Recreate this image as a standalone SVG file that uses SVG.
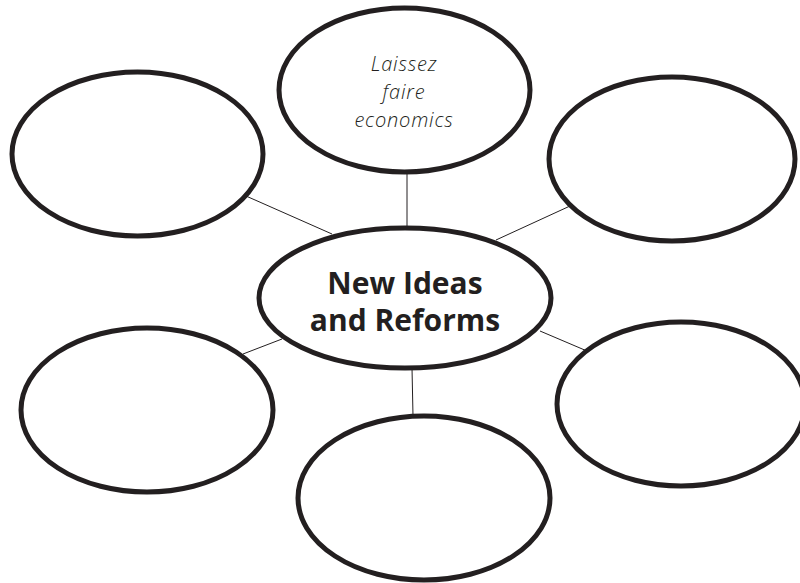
<svg xmlns="http://www.w3.org/2000/svg" width="800" height="583" viewBox="0 0 800 583">
<style>
.node ellipse{fill:#fff;stroke:#231f20;stroke-width:5}
.conn line{stroke:#231f20;stroke-width:1}
.hand{font-family:"Open Sans","DejaVu Sans",sans-serif;font-weight:300;font-style:italic;font-size:20px;letter-spacing:0.8px;fill:#231f20;text-anchor:middle}
.main{font-family:"Open Sans","Liberation Sans",sans-serif;font-weight:700;font-size:30px;fill:#231f20;text-anchor:middle}
</style>
<rect width="800" height="583" fill="#fff"/>
<g id="connectors" class="conn">
<line x1="407" y1="172" x2="407" y2="228"/>
<line x1="246" y1="196" x2="332" y2="234"/>
<line x1="570" y1="206" x2="496" y2="240"/>
<line x1="243" y1="354" x2="282" y2="339"/>
<line x1="587" y1="351" x2="540" y2="331"/>
<line x1="413" y1="416" x2="412" y2="368"/>
</g>
<g id="node-top" class="node">
<ellipse cx="404.5" cy="90" rx="125.5" ry="82"/>
<text class="hand" x="404" y="71">Laissez</text>
<text class="hand" x="404" y="99">faire</text>
<text class="hand" x="404" y="127">economics</text>
</g>
<g id="node-upper-left" class="node">
<ellipse cx="137.5" cy="154" rx="125.5" ry="82"/>
</g>
<g id="node-upper-right" class="node">
<ellipse cx="672" cy="159" rx="123" ry="82"/>
</g>
<g id="node-center" class="node">
<ellipse cx="405" cy="298" rx="146" ry="70"/>
<text class="main" x="405" y="294">New Ideas</text>
<text class="main" x="405" y="331">and Reforms</text>
</g>
<g id="node-lower-left" class="node">
<ellipse cx="147" cy="410" rx="126" ry="82"/>
</g>
<g id="node-lower-right" class="node">
<ellipse cx="681" cy="404" rx="124" ry="82"/>
</g>
<g id="node-bottom" class="node">
<ellipse cx="424" cy="498" rx="126" ry="82"/>
</g>
</svg>
